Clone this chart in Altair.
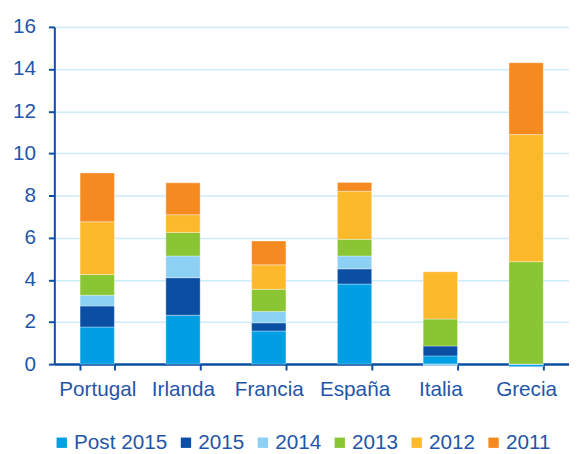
import altair as alt
import pandas as pd

countries = ["Portugal", "Irlanda", "Francia", "España", "Italia", "Grecia"]
series = ["Post 2015", "2015", "2014", "2013", "2012", "2011"]
colors = ["#009FE3", "#0A4FA3", "#8CD1F3", "#8AC633", "#FDB92C", "#F58A20"]

values = {
    "Post 2015": [1.76, 2.32, 1.57, 3.80, 0.39, -0.12],
    "2015":      [1.00, 1.78, 0.39, 0.72, 0.47, 0.00],
    "2014":      [0.51, 1.03, 0.54, 0.61, -0.08, 0.00],
    "2013":      [0.98, 1.12, 1.05, 0.79, 1.28, 4.86],
    "2012":      [2.50, 0.84, 1.16, 2.28, 2.25, 6.03],
    "2011":      [2.32, 1.51, 1.13, 0.42, 0.00, 3.41],
}

rows = []
for si, s in enumerate(series):
    for ci, c in enumerate(countries):
        rows.append({"pais": c, "serie": s, "valor": values[s][ci], "orden": si})
df = pd.DataFrame(rows)

text_color = "#1F56A8"
axis_color = "#0B4EA2"
font = "Liberation Sans"

chart = alt.Chart(df).mark_bar(
    stroke="white", strokeOpacity=0.35, strokeWidth=1
).encode(
    x=alt.X("pais:N", sort=countries, title=None,
            scale=alt.Scale(paddingInner=0.6, paddingOuter=0.3),
            axis=alt.Axis(labelAngle=0, tickBand="extent", grid=False,
                          domainColor=axis_color, domainWidth=2.5,
                          tickColor=axis_color, tickWidth=2, tickSize=6,
                          labelPadding=9, labelFontSize=21, labelColor=text_color,
                          labelFont=font)),
    y=alt.Y("valor:Q", title=None, stack="zero",
            scale=alt.Scale(domain=[0, 16], nice=False, clamp=False),
            axis=alt.Axis(values=list(range(0, 17, 2)), grid=True,
                          gridColor="#CDEBF8", gridWidth=1.5,
                          domainColor=axis_color, domainWidth=2,
                          tickColor=axis_color, tickWidth=2, tickSize=6,
                          labelPadding=13, labelFontSize=21, labelColor=text_color,
                          labelFont=font)),
    color=alt.Color("serie:N", sort=series,
                    scale=alt.Scale(domain=series, range=colors),
                    legend=alt.Legend(title=None, orient="none", direction="horizontal",
                                      columns=6, legendX=-3, legendY=411,
                                      symbolType="square", symbolSize=110,
                                      symbolStrokeWidth=0, labelFontSize=21,
                                      labelColor=text_color, labelFont=font,
                                      labelOffset=2, columnPadding=8, padding=0)),
    order=alt.Order("orden:Q", sort="ascending"),
).properties(
    width=522, height=342,
    autosize=alt.AutoSizeParams(type="none"),
    padding={"left": 47, "top": 16, "right": 0, "bottom": 88},
).configure_view(stroke=None)

chart.save("out.html", embed_options={"renderer": "svg", "actions": False})
